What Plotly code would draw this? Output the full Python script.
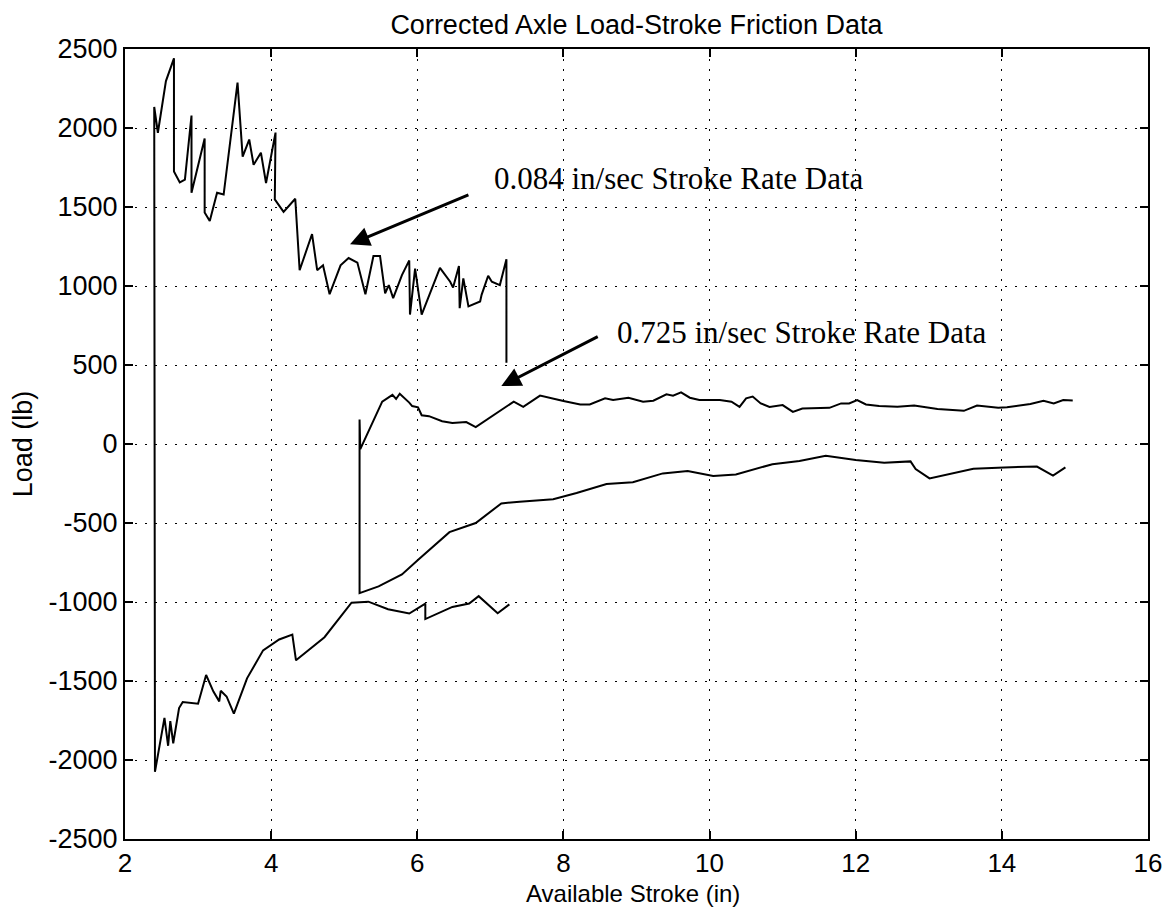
import plotly.graph_objects as go

# ---- data ----
# 0.084 in/sec stroke rate data: lower branch (left -> right)
slow_low_x = [2.41, 2.54, 2.59, 2.62, 2.66, 2.74, 2.79, 3.00, 3.11, 3.21, 3.29, 3.31, 3.39, 3.49,
              3.67, 3.89, 4.11, 4.29, 4.34, 4.73, 5.10, 5.33, 5.60, 5.89, 6.11, 6.11, 6.48, 6.71,
              6.84, 7.10, 7.26]
slow_low_y = [-2075, -1733, -1910, -1754, -1894, -1671, -1633, -1644, -1462, -1567, -1629, -1562,
              -1598, -1706, -1483, -1306, -1237, -1206, -1369, -1223, -1004, -998, -1046, -1073,
              -1010, -1108, -1031, -1010, -963, -1071, -1015]
# 0.084 in/sec stroke rate data: upper branch (left -> right)
slow_up_x = [2.40, 2.45, 2.56, 2.67, 2.67, 2.75, 2.82, 2.91, 2.91, 3.09, 3.09, 3.16, 3.26, 3.35,
             3.54, 3.61, 3.70, 3.76, 3.86, 3.93, 4.06, 4.05, 4.17, 4.33, 4.39, 4.56, 4.63, 4.71,
             4.80, 4.95, 5.06, 5.18, 5.29, 5.40, 5.49, 5.56, 5.61, 5.67, 5.79, 5.89, 5.90, 5.97,
             6.06, 6.31, 6.45, 6.49, 6.57, 6.58, 6.63, 6.70, 6.86, 6.88, 6.97, 7.02, 7.13, 7.22,
             7.22]
slow_up_y = [2133, 1970, 2297, 2441, 1725, 1656, 1673, 2079, 1590, 1933, 1465, 1412, 1590, 1579,
             2287, 1819, 1927, 1767, 1844, 1652, 1971, 1548, 1469, 1552, 1100, 1329, 1100, 1131,
             948, 1131, 1177, 1148, 948, 1190, 1190, 954, 1006, 923, 1069, 1162, 819, 1110,
             819, 1115, 1027, 990, 1127, 860, 1048, 871, 902, 944, 1065, 1027, 1006, 1169,
             515]

# 0.725 in/sec stroke rate data: upper branch (left -> right)
fast_up_x = [5.22, 5.52, 5.66, 5.71, 5.76, 5.89, 5.93, 6.01, 6.06, 6.16, 6.34, 6.48, 6.67, 6.80,
             7.32, 7.45, 7.68, 8.00, 8.23, 8.36, 8.57, 8.68, 8.89, 9.09, 9.23, 9.41, 9.50, 9.61,
             9.73, 9.86, 10.14, 10.30, 10.41, 10.50, 10.59, 10.70, 10.82, 11.00, 11.14, 11.27,
             11.64, 11.80, 11.91, 12.02, 12.14, 12.32, 12.57, 12.80, 13.12, 13.48, 13.66, 13.95,
             14.07, 14.39, 14.57, 14.71, 14.84, 14.97]
fast_up_y = [-32, 268, 311, 285, 318, 262, 240, 232, 182, 176, 144, 133, 139, 107,
             268, 235, 306, 272, 250, 250, 289, 278, 293, 268, 274, 315, 306, 327,
             293, 278, 278, 268, 235, 289, 300, 257, 235, 246, 203, 225,
             229, 257, 257, 278, 250, 240, 236, 243, 222, 210, 243, 230,
             232, 253, 274, 257, 278, 275]
# 0.725 in/sec stroke rate data: lower branch (left -> right)
fast_low_x = [5.21, 5.21, 5.47, 5.79, 6.02, 6.44, 6.80, 7.15, 7.40, 7.86, 8.18, 8.59, 8.95, 9.36,
              9.70, 10.05, 10.36, 10.86, 11.23, 11.59, 12.00, 12.39, 12.75, 12.82, 13.01, 13.30,
              13.61, 14.03, 14.48, 14.70, 14.87]
fast_low_y = [155, -944, -901, -826, -730, -558, -500, -376, -365, -349, -310, -253, -242, -186,
              -171, -203, -193, -128, -107, -75, -101, -118, -110, -158, -218, -188,
              -156, -148, -143, -200, -148]

x_ticks = [2, 4, 6, 8, 10, 12, 14, 16]
x_tick_labels = ["2", "4", "6", "8", "10", "12", "14", "16"]
y_ticks = [-2500, -2000, -1500, -1000, -500, 0, 500, 1000, 1500, 2000, 2500]
y_tick_labels = ["-2500", "-2000", "-1500", "-1000", "-500", "0", "500", "1000", "1500",
                 "2000", "2500"]

title_text = "Corrected Axle Load-Stroke Friction Data"
x_title = "Available Stroke (in)"
y_title = "Load (lb)"
label_slow = "0.084 in/sec Stroke Rate Data"
label_fast = "0.725 in/sec Stroke Rate Data"

# ---- figure ----
slow_x = slow_low_x[::-1] + slow_up_x
slow_y = slow_low_y[::-1] + slow_up_y
fast_x = fast_up_x[::-1] + fast_low_x
fast_y = fast_up_y[::-1] + fast_low_y

line_style = dict(color="black", width=2)
fig = go.Figure()
fig.add_trace(go.Scatter(x=slow_x, y=slow_y, mode="lines", line=line_style,
                         name=label_slow, showlegend=False))
fig.add_trace(go.Scatter(x=fast_x, y=fast_y, mode="lines", line=line_style,
                         name=label_fast, showlegend=False))

sans = "Liberation Sans, Arial, Helvetica, sans-serif"
serif = "Liberation Serif, Times New Roman, serif"

axis_common = dict(
    showline=True, linecolor="black", linewidth=2, mirror="ticks",
    ticks="inside", ticklen=8, tickwidth=2, tickcolor="black",
    showgrid=True, gridcolor="black", gridwidth=1, griddash="2px,8px",
    zeroline=False, automargin=False,
)

fig.update_xaxes(range=[2, 16], tickvals=x_ticks, ticktext=x_tick_labels, **axis_common,
                 tickfont=dict(family=sans, size=26, color="black"),
                 ticklabelstandoff=0)
fig.update_yaxes(range=[-2500, 2500], tickvals=y_ticks, ticktext=y_tick_labels, **axis_common,
                 tickfont=dict(family=sans, size=27, color="black"),
                 title=dict(text=y_title, font=dict(family=sans, size=27, color="black"),
                            standoff=8),
                 ticklabelstandoff=0)

# x-axis title
fig.add_annotation(x=0.497, y=-55 / 790, xref="paper", yref="paper", text=x_title,
                   showarrow=False, xanchor="center", yanchor="middle",
                   font=dict(family=sans, size=24, color="black"))

fig.add_annotation(x=5.08, y=1264, ax=6.72, ay=1580, xref="x", yref="y", axref="x", ayref="y",
                   text="", showarrow=True, arrowhead=2, arrowsize=1.3, arrowwidth=3,
                   arrowcolor="black", standoff=0)
fig.add_annotation(x=7.15, y=367, ax=8.49, ay=684, xref="x", yref="y", axref="x", ayref="y",
                   text="", showarrow=True, arrowhead=2, arrowsize=1.3, arrowwidth=3,
                   arrowcolor="black", standoff=0)
fig.add_annotation(x=7.02, y=1680, xref="x", yref="y", text=label_slow, showarrow=False,
                   xanchor="left", yanchor="middle",
                   font=dict(family=serif, size=31, color="black"))
fig.add_annotation(x=8.70, y=705, xref="x", yref="y", text=label_fast, showarrow=False,
                   xanchor="left", yanchor="middle",
                   font=dict(family=serif, size=31, color="black"))

fig.update_layout(
    width=1167, height=909,
    margin=dict(l=125, r=19, t=49, b=70),
    paper_bgcolor="white", plot_bgcolor="white",
    title=dict(text=title_text, x=0.5, xref="paper", xanchor="center",
               y=1 - 25 / 909, yref="container", yanchor="middle",
               font=dict(family=sans, size=27, color="black")),
)

fig.write_html("out.html")
